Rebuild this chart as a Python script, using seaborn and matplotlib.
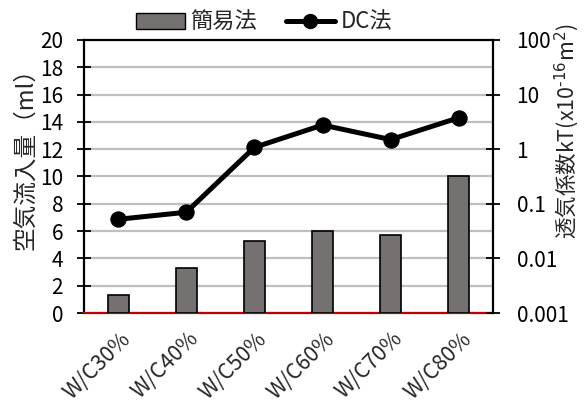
import matplotlib
matplotlib.use("Agg")
import matplotlib.pyplot as plt
import matplotlib.transforms as mtransforms
import seaborn as sns
import pandas as pd
from matplotlib.patches import Patch
from matplotlib.lines import Line2D
from matplotlib.ticker import FixedLocator, NullLocator, FixedFormatter

categories = ["W/C30%", "W/C40%", "W/C50%", "W/C60%", "W/C70%", "W/C80%"]
air_inflow = [1.3, 3.3, 5.3, 6.0, 5.7, 10.0]         # 簡易法 (ml)
permeability = [0.052, 0.07, 1.08, 2.77, 1.5, 3.78]  # DC法 kT (x10^-16 m^2)
left_ticks = [0, 2, 4, 6, 8, 10, 12, 14, 16, 18, 20]
right_ticks = [0.001, 0.01, 0.1, 1, 10, 100]
right_tick_labels = ["0.001", "0.01", "0.1", "1", "10", "100"]

sns.set_theme(style="white")
plt.rcParams["font.family"] = ["Noto Sans CJK JP", "DejaVu Sans"]
plt.rcParams["axes.unicode_minus"] = False

df = pd.DataFrame({"cat": categories, "air": air_inflow})

W, H = 584, 407
fig = plt.figure(figsize=(W / 100, H / 100), dpi=100)
ax = fig.add_axes([84 / W, 1 - 313 / H, (493 - 84) / W, (313 - 40) / H])

bar_color = "#767171"
FS = 15

sns.barplot(data=df, x="cat", y="air", ax=ax, color=bar_color, width=0.31,
            edgecolor="black", linewidth=1.2, saturation=1, zorder=3)
ax.set_ylim(0, 20)
ax.set_xlim(-0.5, 5.5)
ax.set_yticks(left_ticks)
ax.yaxis.grid(True, color="#BFBFBF", linewidth=1.6, zorder=0)
ax.set_axisbelow(True)
ax.set_xlabel("")
ax.set_ylabel("空気流入量（ml）", fontsize=17)
ax.yaxis.set_label_coords(-0.115, 0.585)
ax.tick_params(axis="y", direction="inout", length=10, width=1.3, labelsize=FS,
               left=True, pad=10, colors="black")
ax.tick_params(axis="x", length=0, labelsize=15.5, pad=9)

for side in ["left", "right", "top"]:
    ax.spines[side].set_color("black")
    ax.spines[side].set_linewidth(1.6)
ax.spines["bottom"].set_color("#C00000")
ax.spines["bottom"].set_linewidth(1.6)

ax2 = ax.twinx()
sns.lineplot(x=list(range(len(categories))), y=permeability, ax=ax2, color="black",
             linewidth=3.6, marker="o", markersize=11, markeredgecolor="black",
             sort=False, zorder=5)
ax2.set_yscale("log")
ax2.set_ylim(0.001, 100)
ax2.yaxis.set_major_locator(FixedLocator(right_ticks))
ax2.yaxis.set_minor_locator(NullLocator())
ax2.yaxis.set_major_formatter(FixedFormatter(right_tick_labels))
ax2.tick_params(axis="y", direction="inout", length=10, width=1.3, labelsize=FS,
                right=True, pad=12, colors="black")
ax2.set_ylabel(r"透気係数kT(x10$^{\text{-}16}$m$^{2}$)", fontsize=15.5)
ax2.yaxis.set_label_coords(1.145, 0.665)
for s in ax2.spines.values():
    s.set_visible(False)

# slanted category labels, nudged right/down below the axis
shift = mtransforms.ScaledTranslation(0.09, -0.10, fig.dpi_scale_trans)
for lbl in ax.get_xticklabels():
    lbl.set_rotation(45)
    lbl.set_ha("right")
    lbl.set_va("center")
    lbl.set_rotation_mode("anchor")
    lbl.set_transform(lbl.get_transform() + shift)

handles = [
    Patch(facecolor=bar_color, edgecolor="black", linewidth=1.0, label="簡易法"),
    Line2D([0], [0], color="black", linewidth=3.6, marker="o", markersize=10,
           label="DC法"),
]
fig.legend(handles=handles, loc="center", bbox_to_anchor=(264 / W, 1 - 22 / H), ncol=2,
           frameon=False, fontsize=16, handlelength=2.2, handleheight=0.75,
           handletextpad=0.25, columnspacing=1.3, borderaxespad=0, borderpad=0)

fig.savefig("out.png", dpi=100)
